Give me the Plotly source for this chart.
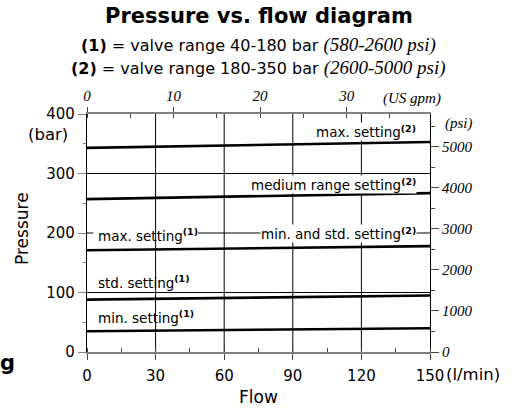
import plotly.graph_objects as go

# ---- data ----
flow = [0, 150]                      # l/min
max_setting_2 = [343, 353]           # bar
medium_setting_2 = [257, 267]
min_std_setting_2 = [171, 178]
std_setting_1 = [88, 95]
min_setting_1 = [35, 40]

x_ticks = [0, 30, 60, 90, 120, 150]
y_ticks = [0, 100, 200, 300, 400]
gpm_ticks = [0, 10, 20, 30]
psi_ticks = [0, 1000, 2000, 3000, 4000, 5000]

LPM_PER_GPM = 3.785411784
PSI_PER_BAR = 14.5038

SANS = "DejaVu Sans"
SERIF = "Liberation Serif"

fig = go.Figure()

series = [max_setting_2, medium_setting_2, min_std_setting_2, std_setting_1, min_setting_1]
for s in series:
    fig.add_trace(go.Scatter(x=flow, y=s, mode="lines",
                             line=dict(color="black", width=2.6),
                             showlegend=False, hoverinfo="skip"))

shapes = []
# horizontal grid lines
for v in y_ticks[1:-1]:
    shapes.append(dict(type="line", xref="x", yref="y", x0=0, x1=150, y0=v, y1=v,
                       line=dict(color="black", width=1), layer="between"))
# white patch behind "max. setting(1)" (hides horizontal grid only)
shapes.append(dict(type="rect", xref="x", yref="y", x0=2.8, x1=48.5, y0=190, y1=206,
                   fillcolor="white", line=dict(width=0), layer="between"))
# vertical grid lines
for v in x_ticks[1:-1]:
    shapes.append(dict(type="line", xref="x", yref="y", x0=v, x1=v, y0=0, y1=400,
                       line=dict(color="black", width=1), layer="between"))
fig.update_layout(shapes=shapes)

tick_sans = dict(family=SANS, size=15, color="black")
tick_serif = dict(family=SERIF, size=15, color="black", style="italic")

fig.update_layout(
    width=522, height=411,
    margin=dict(l=87, r=92, t=114, b=59, autoexpand=False),
    paper_bgcolor="white", plot_bgcolor="white",
    showlegend=False,
    xaxis=dict(range=[0, 150], tickvals=x_ticks, ticks="outside", ticklen=6,
               tickcolor="#444", tickwidth=1, showline=True, linecolor="#808080",
               linewidth=1.5, showgrid=False, zeroline=False, tickfont=tick_sans,
               ticklabelstandoff=3,
               minor=dict(dtick=15, ticks="inside", ticklen=4, tickcolor="#444", showgrid=False)),
    xaxis2=dict(range=[0, 150 / LPM_PER_GPM], overlaying="x", side="top", anchor="y",
                tickvals=gpm_ticks, ticks="outside", ticklen=5, tickcolor="#444",
                showline=True, linecolor="#808080", linewidth=1.5, showgrid=False,
                zeroline=False, tickfont=tick_serif,
                minor=dict(dtick=5, ticks="inside", ticklen=4, tickcolor="#444", showgrid=False)),
    yaxis=dict(range=[0, 400], tickvals=y_ticks, ticks="outside", ticklen=8,
               tickcolor="#808080", showline=True, linecolor="black", linewidth=1.2,
               showgrid=False, zeroline=False, tickfont=tick_sans,
               minor=dict(dtick=50, ticks="outside", ticklen=3, tickcolor="#808080", showgrid=False)),
    yaxis2=dict(range=[0, 400 * PSI_PER_BAR], overlaying="y", side="right", anchor="x",
                tickvals=psi_ticks, ticks="outside", ticklen=8, tickcolor="#444",
                showline=True, linecolor="black", linewidth=1.2, showgrid=False,
                zeroline=False, tickfont=tick_serif,
                minor=dict(dtick=500, ticks="outside", ticklen=4, tickcolor="#444", showgrid=False)),
)
# dummy trace to activate the secondary axes
fig.add_trace(go.Scatter(x=[None], y=[None], xaxis="x2", yaxis="y2", showlegend=False))

ann = []
def A(text, x, y, xref="paper", yref="paper", xa="center", ya="middle", font=None, **kw):
    d = dict(text=text, x=x, y=y, xref=xref, yref=yref, xanchor=xa, yanchor=ya,
             showarrow=False, font=font or dict(family=SANS, size=15, color="black"))
    d.update(kw)
    ann.append(d)

# titles
A("<b>Pressure vs. flow diagram</b>", 0.5, 1.412, font=dict(family=SANS, size=21, color="black"))
A("<b>(1)</b> = valve range 40-180 bar <span style=\"font-family:Liberation Serif;font-style:italic;font-size:19px\">(580-2600 psi)</span>",
  0.5, 1.290, font=dict(family=SANS, size=16, color="black"))
A("<b>(2)</b> = valve range 180-350 bar <span style=\"font-family:Liberation Serif;font-style:italic;font-size:19px\">(2600-5000 psi)</span>",
  0.5, 1.193, font=dict(family=SANS, size=16, color="black"))

# unit labels
unit_sans = dict(family=SANS, size=16.5, color="black")
A("(bar)", -0.05, 0.912, xa="right", font=unit_sans)
A("(psi)", 1.038, 0.962, xa="left", font=tick_serif)
A("(US gpm)", 0.857, 1.067, xa="left", font=tick_serif)
A("(l/min)", 1.04, -0.0966, xa="left", font=unit_sans)

# axis titles
A("Pressure", -0.1895, 0.517, font=dict(family=SANS, size=17, color="black"), textangle=-90)
A("Flow", 0.5, -0.189, font=dict(family=SANS, size=17, color="black"))

# stray cropped text at left
A("<b>g</b>", -0.204, -0.046, xa="right", font=dict(family=SANS, size=21, color="black"))

lab = dict(family=SANS, size=13.5, color="black")
A("max. setting<sup><b>(2)</b></sup>", 144.3, 370.5, xref="x", yref="y", xa="right",
  font=lab, bgcolor="white", borderpad=0, height=17)
A("medium range setting<sup><b>(2)</b></sup>", 144.3, 281.8, xref="x", yref="y", xa="right",
  font=lab, bgcolor="white", borderpad=0, height=17)
A("min. and std. setting<sup><b>(2)</b></sup>", 144.3, 199.5, xref="x", yref="y", xa="right",
  font=lab, bgcolor="white", borderpad=0, height=17)
A("max. setting<sup><b>(1)</b></sup>", 3.9, 196.6, xref="x", yref="y", xa="left", font=lab)
A("std. setting<sup><b>(1)</b></sup>", 3.9, 118.2, xref="x", yref="y", xa="left", font=lab)
A("min. setting<sup><b>(1)</b></sup>", 3.9, 59.4, xref="x", yref="y", xa="left", font=lab)

fig.update_layout(annotations=ann)
fig.write_html("out.html",
               config={"displayModeBar": False},
               post_script="document.body.style.margin='0';document.body.style.overflow='hidden';")
